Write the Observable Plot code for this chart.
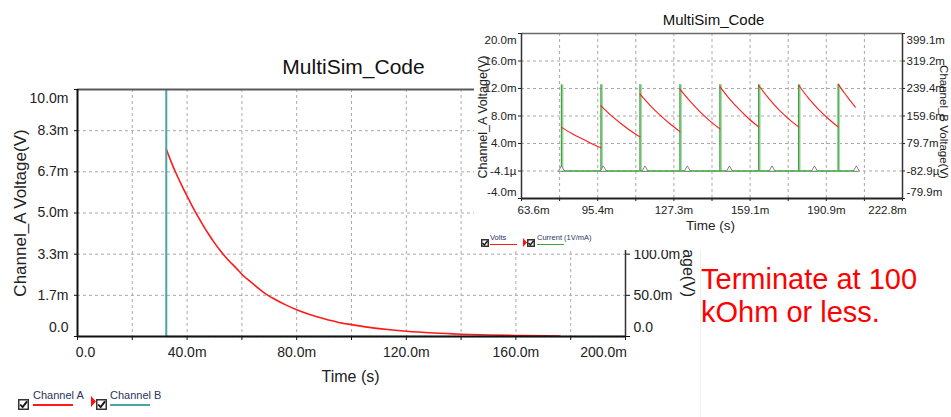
<!DOCTYPE html>
<html><head><meta charset="utf-8">
<script src="https://cdn.jsdelivr.net/npm/d3@7"></script>
<script src="https://cdn.jsdelivr.net/npm/@observablehq/plot@0.6"></script>
<style>
html,body{margin:0;padding:0;background:#fff;}
#root{position:relative;width:951px;height:417px;overflow:hidden;background:#fff;font-family:"Liberation Sans",Arial,Helvetica,sans-serif;}
.leg{position:absolute;line-height:1;white-space:nowrap;color:#2a3560;}
</style></head><body><div id="root"></div>
<script>
const FONT = '"Liberation Sans", Arial, Helvetica, sans-serif';
const NARROW = '"Liberation Sans Narrow", "Liberation Sans", Arial, sans-serif';

// ---------- main chart (Channel A / Channel B) ----------
const mainTitle = "MultiSim_Code";
const mainTimeMs = [32.4, 34, 36, 38, 40, 42, 44, 46, 48, 50, 52, 55, 58, 60, 64, 68, 72, 76, 80, 85, 90, 95, 100, 105, 110, 115, 120, 130, 140, 150, 160, 170, 176];
const mainChannelA_mV = [7.59, 7.12, 6.60, 6.13, 5.68, 5.25, 4.85, 4.47, 4.12, 3.79, 3.49, 3.10, 2.76, 2.52, 2.14, 1.78, 1.51, 1.28, 1.08, 0.88, 0.72, 0.58, 0.48, 0.39, 0.32, 0.26, 0.21, 0.14, 0.093, 0.062, 0.041, 0.027, 0.022];
const mainChannelBPulseMs = [32.4];
const mainChannelBPulse_mV = [300];
const mainChannelBBaseMs = [32.4, 200];
const mainChannelBBase_mV = [0, 0];
const mainXDomain = [0, 200];
const mainADomain = [0, 10];
const mainBDomain = [0, 300];
const mainXTicks = [0, 40, 80, 120, 160, 200];
const mainXTickLabels = ["0.0", "40.0m", "80.0m", "120.0m", "160.0m", "200.0m"];
const mainXMinor = [20, 60, 100, 140, 180];
const mainATicks = [0, 1.667, 3.333, 5, 6.667, 8.333, 10];
const mainATickLabels = ["0.0", "1.7m", "3.3m", "5.0m", "6.7m", "8.3m", "10.0m"];
const mainBTicks = [0, 50, 100];            // the upper right-axis labels are hidden behind the inset
const mainBTickLabels = ["0.0", "50.0m", "100.0m"];
const mainBTickMarks = [0, 50, 100, 150, 200, 250, 300];
const mainLegend = ["Channel A", "Channel B"];

// ---------- inset chart (Volts / Current) ----------
const insetTitle = "MultiSim_Code";
const insetXDomain = [63.6, 222.8];
const insetADomain = [-4, 20];
const insetBDomain = [-79.9, 399.1];
const insetXDivisions = [63.6, 79.52, 95.44, 111.36, 127.28, 143.2, 159.12, 175.04, 190.96, 206.88, 222.8];
const insetXLabelTicks = [63.6, 95.44, 127.28, 159.12, 190.96, 222.8];
const insetXLabels = ["63.6m", "95.4m", "127.3m", "159.1m", "190.9m", "222.8m"];
const insetATicks = [-4, 0, 4, 8, 12, 16, 20];
const insetALabels = ["-4.0m", "-4.1µ", "4.0m", "8.0m", "12.0m", "16.0m", "20.0m"];
const insetBTicks = [-79.9, -0.0829, 79.7, 159.6, 239.4, 319.2, 399.1];
const insetBLabels = ["-79.9m", "-82.9µ", "79.7m", "159.6m", "239.4m", "319.2m", "399.1m"];
const pulseTimesMs = [80.3, 96.8, 113.1, 129.8, 146.5, 162.7, 179.4, 195.9];
const pulsePeak_mV = 250;
const currentBase_mV = 0;
const currentEndMs = 203.5;
const markerTimesMs = [80.3, 97.8, 115.2, 132.9, 150.5, 168.3, 186.0, 203.5];
const voltsSegTimesMs = [
  [80.3, 84.4, 88.5, 92.6, 96.8],
  [96.8, 100.9, 105.0, 109.0, 113.1],
  [113.1, 117.3, 121.4, 125.6, 129.8],
  [129.8, 134.0, 138.1, 142.3, 146.5],
  [146.5, 150.5, 154.6, 158.6, 162.7],
  [162.7, 166.9, 171.0, 175.2, 179.4],
  [179.4, 183.5, 187.6, 191.8, 195.9],
  [195.9, 198.3, 200.7, 203.1]
];
const voltsSegValues_mV = [
  [6.35, 5.50, 4.75, 4.05, 3.37],
  [9.49, 8.13, 6.95, 5.90, 4.96],
  [11.18, 9.55, 8.15, 6.87, 5.73],
  [11.90, 10.15, 8.65, 7.30, 6.12],
  [12.28, 10.50, 8.95, 7.60, 6.41],
  [12.43, 10.55, 8.95, 7.58, 6.41],
  [12.47, 10.60, 9.00, 7.60, 6.41],
  [12.63, 11.45, 10.35, 9.30]
];
const insetLegend = ["Volts", "Current (1V/mA)"];
const noteLines = ["Terminate at 100", "kOhm or less."];

// colours
const RED = "#ff1a1a", TEAL = "#45a6a6", GREEN = "#3ca23c", LIGHTGREEN = "#a6d9a6", GRID = "#a9a9a9";

const root = document.getElementById("root");
function place(el, left, top) { el.style.position = "absolute"; el.style.left = left + "px"; el.style.top = top + "px"; root.appendChild(el); return el; }
function mapper(from, to) { return v => to[0] + (v - from[0]) / (from[1] - from[0]) * (to[1] - to[0]); }
function labeler(ticks, labels) { const m = new Map(ticks.map((d, i) => [d, labels[i]])); return d => m.get(d); }

// ===== main chart =====
const bToA = mapper(mainBDomain, mainADomain);
const mainLine = mainTimeMs.map((t, i) => ({t, v: mainChannelA_mV[i]}));
const mainBase = mainChannelBBaseMs.map((t, i) => ({t, v: bToA(mainChannelBBase_mV[i])}));
const mainBPos = mainBTicks.map(bToA);
const fX = labeler(mainXTicks, mainXTickLabels);
const fA = labeler(mainATicks, mainATickLabels);
const fB = labeler(mainBPos, mainBTickLabels);
const none = () => "";
const lab = {fontSize: 14, fill: "#222", label: null};
const mid = {textAnchor: "middle", lineAnchor: "middle"};

const mainSvg = Plot.plot({
  width: 700, height: 390,
  marginLeft: 77, marginRight: 75, marginTop: 89, marginBottom: 54,
  x: {domain: mainXDomain, axis: null, label: null},
  y: {domain: mainADomain, axis: null, label: null},
  style: {background: "transparent", fontFamily: FONT, color: "#222", overflow: "visible"},
  marks: [
    Plot.gridX([...mainXMinor, ...mainXTicks.slice(1, -1)], {stroke: GRID, strokeOpacity: 1, strokeDasharray: "3,3"}),
    Plot.gridY(mainATicks.slice(1, -1), {stroke: GRID, strokeOpacity: 1, strokeDasharray: "3,3"}),
    Plot.line(mainBase, {x: "t", y: "v", stroke: TEAL, strokeWidth: 1.5, strokeDasharray: "1.5,1.5"}),
    Plot.line(mainLine, {x: "t", y: "v", stroke: RED, strokeWidth: 1.6, curve: "monotone-x"}),
    Plot.ruleX(mainChannelBPulseMs, {x: d => d, y1: () => bToA(0), y2: (d, i) => bToA(mainChannelBPulse_mV[i]), stroke: TEAL, strokeWidth: 2}),
    Plot.ruleY([mainADomain[1]], {stroke: "#5a5a5a", strokeWidth: 2}),
    Plot.ruleX([mainXDomain[1]], {stroke: "#333", strokeWidth: 1.5}),
    Plot.ruleX([mainXDomain[0]], {stroke: "#111", strokeWidth: 2}),
    Plot.ruleY([mainADomain[0]], {stroke: "#111", strokeWidth: 2.2}),
    // ticks
    Plot.axisX([...mainXTicks, ...mainXMinor], {tickSize: 4, tickFormat: none, stroke: "#111", label: null}),
    Plot.axisY(mainATicks, {tickSize: 3, tickFormat: none, stroke: "#111", label: null}),
    Plot.axisY(mainBTickMarks.map(bToA), {anchor: "right", tickSize: 4, tickFormat: none, stroke: "#111", label: null}),
    // labels
    Plot.axisX(mainXTicks.slice(1, -1), {tickSize: 0, tickPadding: 11, tickFormat: fX, ...lab}),
    Plot.axisX([mainXTicks[0]], {tickSize: 0, tickPadding: 11, tickFormat: fX, dx: 8, ...lab}),
    Plot.axisX([mainXTicks.at(-1)], {tickSize: 0, tickPadding: 11, tickFormat: fX, dx: -22, ...lab}),
    Plot.axisY(mainATicks.slice(1, -1), {tickSize: 0, tickPadding: 9, tickFormat: fA, ...lab}),
    Plot.axisY([mainATicks[0]], {tickSize: 0, tickPadding: 9, tickFormat: fA, dy: -9, ...lab}),
    Plot.axisY([mainATicks.at(-1)], {tickSize: 0, tickPadding: 9, tickFormat: fA, dy: 9, ...lab}),
    Plot.axisY(mainBPos.slice(1), {anchor: "right", tickSize: 0, tickPadding: 8, tickFormat: fB, ...lab}),
    Plot.axisY([mainBPos[0]], {anchor: "right", tickSize: 0, tickPadding: 8, tickFormat: fB, dy: -9, ...lab}),
    // titles
    Plot.text([mainTitle], {text: d => d, frameAnchor: "top", dy: -22, dx: 2, fontSize: 21, fill: "#111", ...mid}),
    Plot.text(["Channel_A Voltage(V)"], {text: d => d, frameAnchor: "left", rotate: -90, dx: -57, dy: 0, fontSize: 17, fill: "#222", ...mid}),
    Plot.text(["Channel_B Voltage(V)"], {text: d => d, frameAnchor: "right", rotate: 90, dx: 63, dy: 5, fontSize: 16, fill: "#222", ...mid}),
    Plot.text(["Time (s)"], {text: d => d, frameAnchor: "bottom", dy: 40, dx: -1, fontSize: 16, fill: "#222", ...mid})
  ]
});
place(mainSvg, 0, 0);

// faint slide separator
const sep = document.createElement("div");
sep.style.cssText = "width:1px;height:170px;background:#efefef;";
place(sep, 700, 250);

// ===== inset chart =====
const bToA2 = mapper(insetBDomain, insetADomain);
const voltsRows = voltsSegTimesMs.flatMap((ts, s) => ts.map((t, i) => ({seg: s, t, v: voltsSegValues_mV[s][i]})));
const baseA = bToA2(currentBase_mV);
const peakA = bToA2(pulsePeak_mV);
const currentBase = [{t: pulseTimesMs[0], v: baseA}, {t: currentEndMs, v: baseA}];
const insetBPos = insetBTicks.map(bToA2);
const gX = labeler(insetXLabelTicks, insetXLabels);
const gA = labeler(insetATicks, insetALabels);
const gB = labeler(insetBPos, insetBLabels);
const lab2 = {fontSize: 11.5, fill: "#222", fontFamily: NARROW, label: null};

const insetSvg = Plot.plot({
  width: 477, height: 250,
  marginLeft: 47, marginRight: 49, marginTop: 33, marginBottom: 52,
  x: {domain: insetXDomain, axis: null, label: null},
  y: {domain: insetADomain, axis: null, label: null},
  style: {background: "#fff", fontFamily: FONT, color: "#222", overflow: "visible"},
  marks: [
    Plot.gridX(insetXDivisions.slice(1, -1), {stroke: GRID, strokeOpacity: 1, strokeDasharray: "3,3"}),
    Plot.gridY(insetATicks.slice(1, -1), {stroke: GRID, strokeOpacity: 1, strokeDasharray: "3,3"}),
    Plot.ruleX(pulseTimesMs, {x: d => d, y1: () => baseA, y2: () => peakA, stroke: LIGHTGREEN, strokeWidth: 1.6, dx: 1.2}),
    Plot.ruleX(pulseTimesMs, {x: d => d, y1: () => baseA, y2: () => peakA, stroke: GREEN, strokeWidth: 1.3}),
    Plot.line(currentBase, {x: "t", y: "v", stroke: GREEN, strokeWidth: 1.5}),
    Plot.line(voltsRows, {x: "t", y: "v", z: "seg", stroke: RED, strokeWidth: 1.1, curve: "monotone-x"}),
    Plot.dot(markerTimesMs, {x: d => d, y: () => baseA, symbol: "triangle", r: 2.3, stroke: "#777", strokeWidth: 0.9, fill: "#fff", dy: -1.5}),
    Plot.ruleY([insetADomain[1]], {stroke: "#6a6a6a", strokeWidth: 1.5}),
    Plot.ruleX([insetXDomain[0]], {stroke: "#333", strokeWidth: 1.5}),
    Plot.ruleX([insetXDomain[1]], {stroke: "#333", strokeWidth: 1.5}),
    Plot.ruleY([insetADomain[0]], {stroke: "#222", strokeWidth: 2}),
    Plot.axisX(insetXDivisions, {tickSize: 3, tickFormat: none, stroke: "#222", label: null}),
    Plot.axisY(insetATicks, {tickSize: 3, tickFormat: none, stroke: "#222", label: null}),
    Plot.axisY(insetBPos, {anchor: "right", tickSize: 2, tickFormat: none, stroke: "#222", label: null}),
    Plot.axisX(insetXLabelTicks.slice(1, -1), {tickSize: 0, tickPadding: 7, tickFormat: gX, ...lab2}),
    Plot.axisX([insetXLabelTicks[0]], {tickSize: 0, tickPadding: 7, tickFormat: gX, dx: 12, ...lab2}),
    Plot.axisX([insetXLabelTicks.at(-1)], {tickSize: 0, tickPadding: 7, tickFormat: gX, dx: -15, ...lab2}),
    Plot.axisY(insetATicks.slice(1, -1), {tickSize: 0, tickPadding: 5, tickFormat: gA, ...lab2}),
    Plot.axisY([insetATicks[0]], {tickSize: 0, tickPadding: 5, tickFormat: gA, dy: -6, ...lab2}),
    Plot.axisY([insetATicks.at(-1)], {tickSize: 0, tickPadding: 5, tickFormat: gA, dy: 7, ...lab2}),
    Plot.axisY(insetBPos.slice(1, -1), {anchor: "right", tickSize: 0, tickPadding: 4, tickFormat: gB, ...lab2}),
    Plot.axisY([insetBPos[0]], {anchor: "right", tickSize: 0, tickPadding: 4, tickFormat: gB, dy: -6, ...lab2}),
    Plot.axisY([insetBPos.at(-1)], {anchor: "right", tickSize: 0, tickPadding: 4, tickFormat: gB, dy: 7, ...lab2}),
    Plot.text([insetTitle], {text: d => d, frameAnchor: "top", dy: -13, dx: 1.5, fontSize: 15, fill: "#111", ...mid}),
    Plot.text(["Channel_A Voltage(V)"], {text: d => d, frameAnchor: "left", rotate: -90, dx: -39, dy: 1, fontSize: 12.5, fontFamily: NARROW, fill: "#222", ...mid}),
    Plot.text(["Channel_B Voltage(V)"], {text: d => d, frameAnchor: "right", rotate: 90, dx: 41.5, dy: 6, fontSize: 11.5, fontFamily: NARROW, fill: "#222", ...mid}),
    Plot.text(["Time (s)"], {text: d => d, frameAnchor: "bottom", dy: 27, dx: -1.5, fontSize: 13.5, fontFamily: NARROW, fill: "#222", ...mid})
  ]
});
place(insetSvg, 474, 0);

// ===== legends =====
function checkbox(size) {
  const ns = "http://www.w3.org/2000/svg";
  const s = document.createElementNS(ns, "svg");
  s.setAttribute("width", size); s.setAttribute("height", size);
  s.innerHTML = `<rect x="0.75" y="0.75" width="${size - 1.5}" height="${size - 1.5}" fill="#fff" stroke="#333" stroke-width="1.5"/>` +
    `<path d="M${size * 0.2} ${size * 0.5} L${size * 0.42} ${size * 0.74} L${size * 0.82} ${size * 0.22}" fill="none" stroke="#111" stroke-width="${size > 9 ? 1.8 : 1.3}"/>`;
  return s;
}
function marker(w, h) {
  const ns = "http://www.w3.org/2000/svg";
  const s = document.createElementNS(ns, "svg");
  s.setAttribute("width", w); s.setAttribute("height", h);
  s.innerHTML = `<path d="M0 0 L${w} ${h / 2} L0 ${h} Z" fill="#ff1010"/>`;
  return s;
}
function text(str, size, left, top, color) {
  const d = document.createElement("div");
  d.className = "leg"; d.textContent = str; d.style.fontSize = size + "px";
  if (color) d.style.color = color;
  return place(d, left, top);
}
function line(left, top, w, color, h) {
  const d = document.createElement("div");
  d.style.cssText = `width:${w}px;height:${h || 1.5}px;background:${color};`;
  return place(d, left, top);
}
// main legend
place(checkbox(11), 18, 399);
text(mainLegend[0], 11, 33, 390);
line(33, 404, 40, RED);
place(marker(5, 11), 91, 396);
place(checkbox(11), 96, 399);
text(mainLegend[1], 11, 110, 390);
line(110, 404, 40, TEAL);
// inset legend
place(checkbox(8), 481, 239);
text(insetLegend[0], 7.5, 490, 234);
line(490, 243.5, 27, RED, 1.2);
place(marker(4, 9), 523, 238);
place(checkbox(8), 527, 239);
text(insetLegend[1], 7.5, 537, 234);
line(537, 243.5, 27, GREEN, 1.2);

// note
const note = document.createElement("div");
note.style.cssText = `font-family:${FONT};font-size:29px;line-height:33px;color:#ff0000;white-space:nowrap;`;
note.innerHTML = noteLines.map(s => `<div>${s}</div>`).join("");
place(note, 701, 263);
</script>
</body></html>
